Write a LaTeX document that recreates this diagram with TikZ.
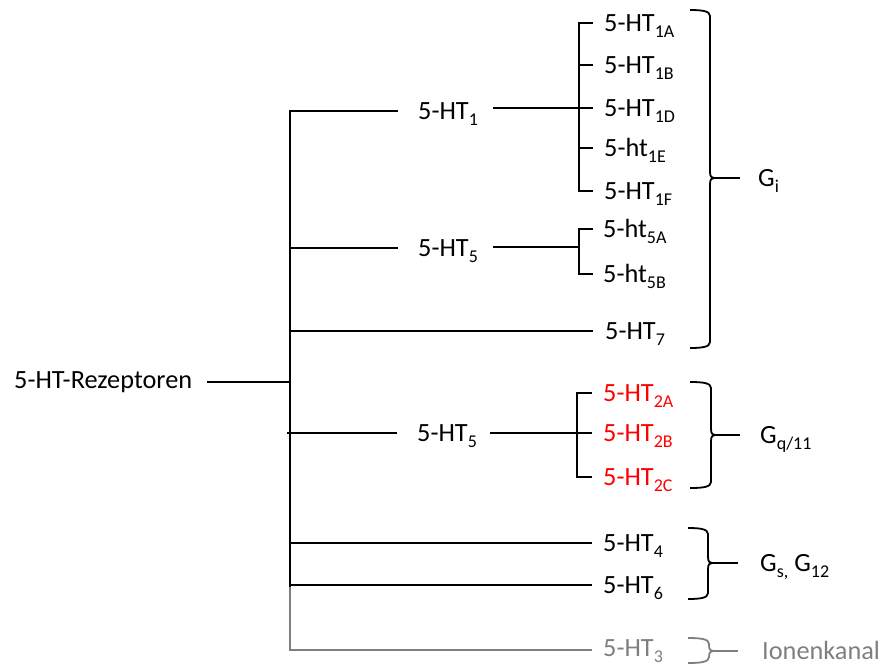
\documentclass[tikz,border=0pt]{standalone}
\usepackage{fontspec}
\setmainfont{Carlito}
\definecolor{rred}{HTML}{FF0000}
\definecolor{ggray}{HTML}{7F7F7F}
\newcommand\sbs[1]{\raisebox{-0.24em}{\fontsize{18}{18}\selectfont #1}}
\tikzset{
  lbl/.style={anchor=base west, inner sep=0pt, font=\fontsize{26.3}{30}\selectfont},
  ln/.style={line width=1.8pt},
}
% brace: #1 x0, #2 x1, #3 top, #4 mid, #5 bottom, #6 name of tip coordinate
\newcommand\mybrace[6]{%
  \draw[ln] (#1,#3) .. controls (#2-8,#3) and (#2,#3+1) .. (#2,#3+6) -- (#2,#4-6)
     .. controls (#2,#4-1) and (#2+2,#4) .. (#2+4,#4) coordinate (#6);
  \draw[ln] (#2+4,#4) .. controls (#2+2,#4) and (#2,#4+1) .. (#2,#4+6) -- (#2,#5-6)
     .. controls (#2,#5-1) and (#2-8,#5) .. (#1,#5);
}
\begin{document}
\begin{tikzpicture}[x=1pt,y=-1pt]
\useasboundingbox (0,0) rectangle (882,666);

% labels
\node[lbl] (root) at (14,388.5) {5-HT-Rezeptoren};
\node[lbl] (h1) at (418,119) {5-HT\sbs{1}};
\node[lbl] (h1a) at (604,31.5) {5-HT\sbs{1A}};
\node[lbl] (h1b) at (604,73.5) {5-HT\sbs{1B}};
\node[lbl] (h1d) at (604,116.5) {5-HT\sbs{1D}};
\node[lbl] (h1e) at (604,156.5) {5-ht\sbs{1E}};
\node[lbl] (h1f) at (604,199.5) {5-HT\sbs{1F}};
\node[lbl] (h5) at (418,256.5) {5-HT\sbs{5}};
\node[lbl] (h5a) at (603,237.5) {5-ht\sbs{5A}};
\node[lbl] (h5b) at (603,282.5) {5-ht\sbs{5B}};
\node[lbl] (h7) at (605,339) {5-HT\sbs{7}};
\node[lbl] (h2) at (417,441.5) {5-HT\sbs{5}};
\node[lbl,text=rred] (h2a) at (603,401.5) {5-HT\sbs{2A}};
\node[lbl,text=rred] (h2b) at (603,441.5) {5-HT\sbs{2B}};
\node[lbl,text=rred] (h2c) at (603,485.5) {5-HT\sbs{2C}};
\node[lbl] (h4) at (603,551.5) {5-HT\sbs{4}};
\node[lbl] (h6) at (603,593.5) {5-HT\sbs{6}};
\node[lbl,text=ggray] (h3) at (603,656.5) {5-HT\sbs{3}};
\node[lbl] (gi) at (758,186.5) {G\sbs{i}};
\node[lbl] (gq) at (760,443.5) {G\sbs{q/11}};
\node[lbl] (gs) at (760,571.5) {G\sbs{s,} G\sbs{12}};
\node[lbl,text=ggray] (ion) at (762,659) {Ionenkanal};

% trunk
\draw[ln] (398,111) -- (290,111) -- (290,587);
\draw[ln,ggray] (290,587) -- (290,650) -- (592,650);
\draw[ln] (207,382) -- (290,382);

% 5-HT1 group
\draw[ln] (493,108) -- (579,108);
\draw[ln] (593,23) -- (579,23) -- (579,191) -- (593,191);
\draw[ln] (579,65) -- (593,65);
\draw[ln] (579,108) -- (593,108);
\draw[ln] (579,148) -- (593,148);

% 5-HT5 group
\draw[ln] (290,248) -- (398,248);
\draw[ln] (493,247) -- (579,247);
\draw[ln] (593,229) -- (579,229) -- (579,274) -- (593,274);

% 5-HT7
\draw[ln] (290,331) -- (593,331);

% 5-HT2 group (printed 5-HT5)
\draw[ln] (287,433) -- (397,433);
\draw[ln] (490,433) -- (577,433);
\draw[ln] (592,393) -- (577,393) -- (577,477) -- (592,477);
\draw[ln] (577,433) -- (592,433);

% 5-HT4 / 5-HT6
\draw[ln] (290,543) -- (592,543);
\draw[ln] (290,585) -- (592,585);

% braces
\mybrace{690}{710}{10}{178}{348}{bi}
\draw[ln] (bi) -- (740,178);
\mybrace{690}{711}{382}{435}{488}{bq}
\draw[ln] (bq) -- (740,435);
\mybrace{688}{708}{528}{563}{599}{bs}
\draw[ln] (bs) -- (738,563);
\begin{scope}[ggray]
\mybrace{688}{709}{638}{651}{663}{bn}
\draw[ln] (bn) -- (738,651);
\end{scope}
\end{tikzpicture}
\end{document}
